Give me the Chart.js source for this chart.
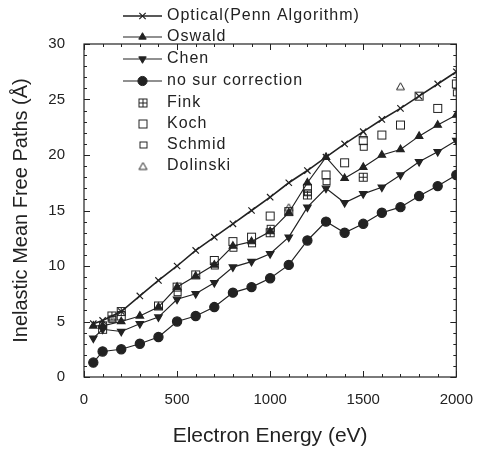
<!DOCTYPE html>
<html>
<head>
<meta charset="utf-8">
<script src="https://cdn.jsdelivr.net/npm/chart.js@4"></script>
<style>
  html, body { margin: 0; padding: 0; background: #fff; }
  #wrap { width: 479px; height: 450px; }
</style>
</head>
<body>
<div id="wrap"><canvas id="chart"></canvas></div>
<script>
// model curves share the same energies
const modelEnergy = [50, 100, 200, 300, 400, 500, 600, 700, 800, 900, 1000,
                     1100, 1200, 1300, 1400, 1500, 1600, 1700, 1800, 1900, 2000];
const pennValues   = [4.8, 5.1, 5.9, 7.3, 8.7, 10.0, 11.4, 12.6, 13.8, 15.0, 16.2,
                      17.5, 18.6, 19.8, 21.0, 22.1, 23.2, 24.2, 25.3, 26.4, 27.5];
const oswaldValues = [4.6, 4.6, 5.0, 5.5, 6.3, 8.1, 9.1, 10.1, 11.8, 12.2, 13.1,
                      14.8, 17.5, 19.8, 17.9, 18.9, 20.0, 20.5, 21.7, 22.7, 23.6];
const chenValues   = [3.5, 4.3, 4.1, 4.8, 5.4, 7.0, 7.5, 8.5, 9.9, 10.4, 11.1,
                      12.6, 15.3, 17.0, 15.7, 16.5, 17.1, 18.2, 19.4, 20.3, 21.3];
const noSurValues  = [1.3, 2.3, 2.5, 3.0, 3.6, 5.0, 5.5, 6.3, 7.6, 8.1, 8.9,
                      10.1, 12.3, 14.0, 13.0, 13.8, 14.8, 15.3, 16.3, 17.2, 18.2];

// experimental points
const finkEnergy = [150, 200, 1000, 1200, 1500];
const finkValues = [5.5, 5.9, 13.0, 16.4, 18.0];
const kochEnergy = [100, 200, 400, 500, 600, 700, 800, 900, 1000, 1100, 1200,
                    1300, 1400, 1500, 1600, 1700, 1800, 1900, 2000];
const kochValues = [4.3, 5.5, 6.4, 8.1, 9.2, 10.5, 12.2, 12.6, 14.5, 14.9, 17.0,
                    18.2, 19.3, 21.3, 21.8, 22.7, 25.3, 24.2, 26.4];
const schmidEnergy = [100, 150, 500, 700, 800, 900, 1000, 1200, 1300, 1500, 2000];
const schmidValues = [4.7, 5.2, 7.6, 10.0, 11.6, 12.0, 13.4, 16.6, 17.6, 20.7, 25.6];
const dolinskiEnergy = [150, 1100, 1500, 1700];
const dolinskiValues = [5.3, 15.3, 21.9, 26.2];

const xTicks = [0, 500, 1000, 1500, 2000];
const yTicks = [0, 5, 10, 15, 20, 25, 30];

const INK = "#222";
const FONT = "'Liberation Sans', Arial, sans-serif";

const pts = (xs, ys) => xs.map((x, i) => ({ x, y: ys[i] }));

// small marker canvases for the open symbols
function marker(draw) {
    const c = document.createElement("canvas");
    c.width = 11; c.height = 11;
    const g = c.getContext("2d");
    g.strokeStyle = INK; g.lineWidth = 1;
    draw(g);
    return c;
}
const finkMark = marker(g => {
    g.strokeRect(1.5, 1.5, 8, 8);
    g.beginPath(); g.moveTo(1.5, 5.5); g.lineTo(9.5, 5.5);
    g.moveTo(5.5, 1.5); g.lineTo(5.5, 9.5); g.stroke();
});
const kochMark = marker(g => { g.strokeRect(1.5, 1.5, 8, 8); });
const schmidMark = marker(g => { g.strokeRect(2.5, 2.5, 7, 6); });
const dolinskiMark = marker(g => {
    g.beginPath(); g.moveTo(5.5, 2); g.lineTo(9.5, 9); g.lineTo(1.5, 9); g.closePath(); g.stroke();
});

const lineSet = (label, ys, style, radius, extra = {}) => ({
    label, data: pts(modelEnergy, ys), showLine: true,
    borderColor: INK, backgroundColor: INK, borderWidth: 1.2,
    pointStyle: style, pointRadius: radius, pointBorderColor: INK, pointBackgroundColor: INK,
    ...extra
});
const pointSet = (label, xs, ys, img) => ({
    label, data: pts(xs, ys), showLine: false,
    pointStyle: img, pointRadius: 5, borderColor: INK, backgroundColor: "#fff"
});

const datasets = [
    lineSet("Optical(Penn Algorithm)", pennValues, "crossRot", 4.5, { borderWidth: 1.6, pointBorderWidth: 1.2 }),
    lineSet("Oswald", oswaldValues, "triangle", 4.3),
    lineSet("Chen", chenValues, "triangle", 4.3, { pointRotation: 180 }),
    lineSet("no sur correction", noSurValues, "circle", 4.6),
    pointSet("Fink", finkEnergy, finkValues, finkMark),
    pointSet("Koch", kochEnergy, kochValues, kochMark),
    pointSet("Schmid", schmidEnergy, schmidValues, schmidMark),
    pointSet("Dolinski", dolinskiEnergy, dolinskiValues, dolinskiMark),
];

// frame with inward ticks on all four sides
const framePlugin = {
    id: "frame",
    afterDatasetsDraw(chart) {
        const { ctx, chartArea: a, scales: { x, y } } = chart;
        ctx.save();
        ctx.strokeStyle = INK;
        ctx.lineWidth = 1.2;
        ctx.strokeRect(a.left, a.top, a.right - a.left, a.bottom - a.top);
        ctx.lineWidth = 1;
        ctx.beginPath();
        for (let v = 0; v <= 30; v++) {
            const len = v % 5 === 0 ? 6 : 3;
            const py = Math.round(y.getPixelForValue(v)) + 0.5;
            ctx.moveTo(a.left, py); ctx.lineTo(a.left + len, py);
            ctx.moveTo(a.right, py); ctx.lineTo(a.right - len, py);
        }
        for (let v = 0; v <= 2000; v += 100) {
            const len = v % 500 === 0 ? 6 : 3;
            const px = Math.round(x.getPixelForValue(v)) + 0.5;
            ctx.moveTo(px, a.bottom); ctx.lineTo(px, a.bottom - len);
            ctx.moveTo(px, a.top); ctx.lineTo(px, a.top + len);
        }
        ctx.stroke();
        ctx.restore();
    }
};

// legend stacked at the upper left, partly above the frame
const legendPlugin = {
    id: "paperLegend",
    afterDraw(chart) {
        const { ctx } = chart;
        const x0 = 123, x1 = 162, textX = 167;
        const rows = [16, 37, 59, 81, 103, 124, 145, 166];
        ctx.save();
        ctx.font = "16px " + FONT;
        ctx.letterSpacing = "1px";
        ctx.textBaseline = "middle";
        chart.data.datasets.forEach((ds, i) => {
            const yy = rows[i];
            const mx = ds.showLine ? (x0 + x1) / 2 : 143;
            if (ds.showLine) {
                ctx.strokeStyle = INK;
                ctx.lineWidth = ds.borderWidth;
                ctx.beginPath(); ctx.moveTo(x0, yy); ctx.lineTo(x1, yy); ctx.stroke();
            }
            ctx.fillStyle = ds.pointBackgroundColor || ds.backgroundColor;
            ctx.strokeStyle = INK;
            ctx.lineWidth = ds.pointBorderWidth || 1;
            Chart.helpers.drawPoint(ctx, {
                pointStyle: ds.pointStyle, radius: ds.pointRadius,
                rotation: ds.pointRotation || 0, borderWidth: ds.pointBorderWidth || 1
            }, mx, yy);
            ctx.fillStyle = INK;
            ctx.fillText(ds.label, textX, yy);
        });
        ctx.restore();
    }
};

new Chart(document.getElementById("chart"), {
    type: "scatter",
    data: { datasets },
    options: {
        responsive: true, maintainAspectRatio: false, animation: false,
        layout: { padding: { top: 44, right: 22, left: 0, bottom: 0 } },
        plugins: { legend: { display: false }, tooltip: { enabled: false } },
        scales: {
            x: {
                type: "linear", min: 0, max: 2000,
                afterFit: s => { s.height = 73; },
                afterBuildTicks: s => { s.ticks = xTicks.map(v => ({ value: v })); },
                grid: { display: false }, border: { display: false },
                ticks: { color: INK, padding: 6, font: { family: FONT, size: 15 }, callback: v => String(v) },
                title: {
                    display: true, text: "Electron Energy (eV)", color: INK,
                    font: { family: FONT, size: 21 }, padding: { top: 6, bottom: 1 }
                }
            },
            y: {
                type: "linear", min: 0, max: 30,
                afterFit: s => { s.width = 84; },
                afterBuildTicks: s => { s.ticks = yTicks.map(v => ({ value: v })); },
                grid: { display: false }, border: { display: false },
                ticks: { color: INK, padding: 11, font: { family: FONT, size: 15 }, callback: v => String(v) },
                title: {
                    display: true, text: "Inelastic Mean Free Paths (Å)", color: INK,
                    font: { family: FONT, size: 20 }, padding: { top: 9, bottom: 4 }
                }
            }
        }
    },
    plugins: [framePlugin, legendPlugin]
});
</script>
</body>
</html>
